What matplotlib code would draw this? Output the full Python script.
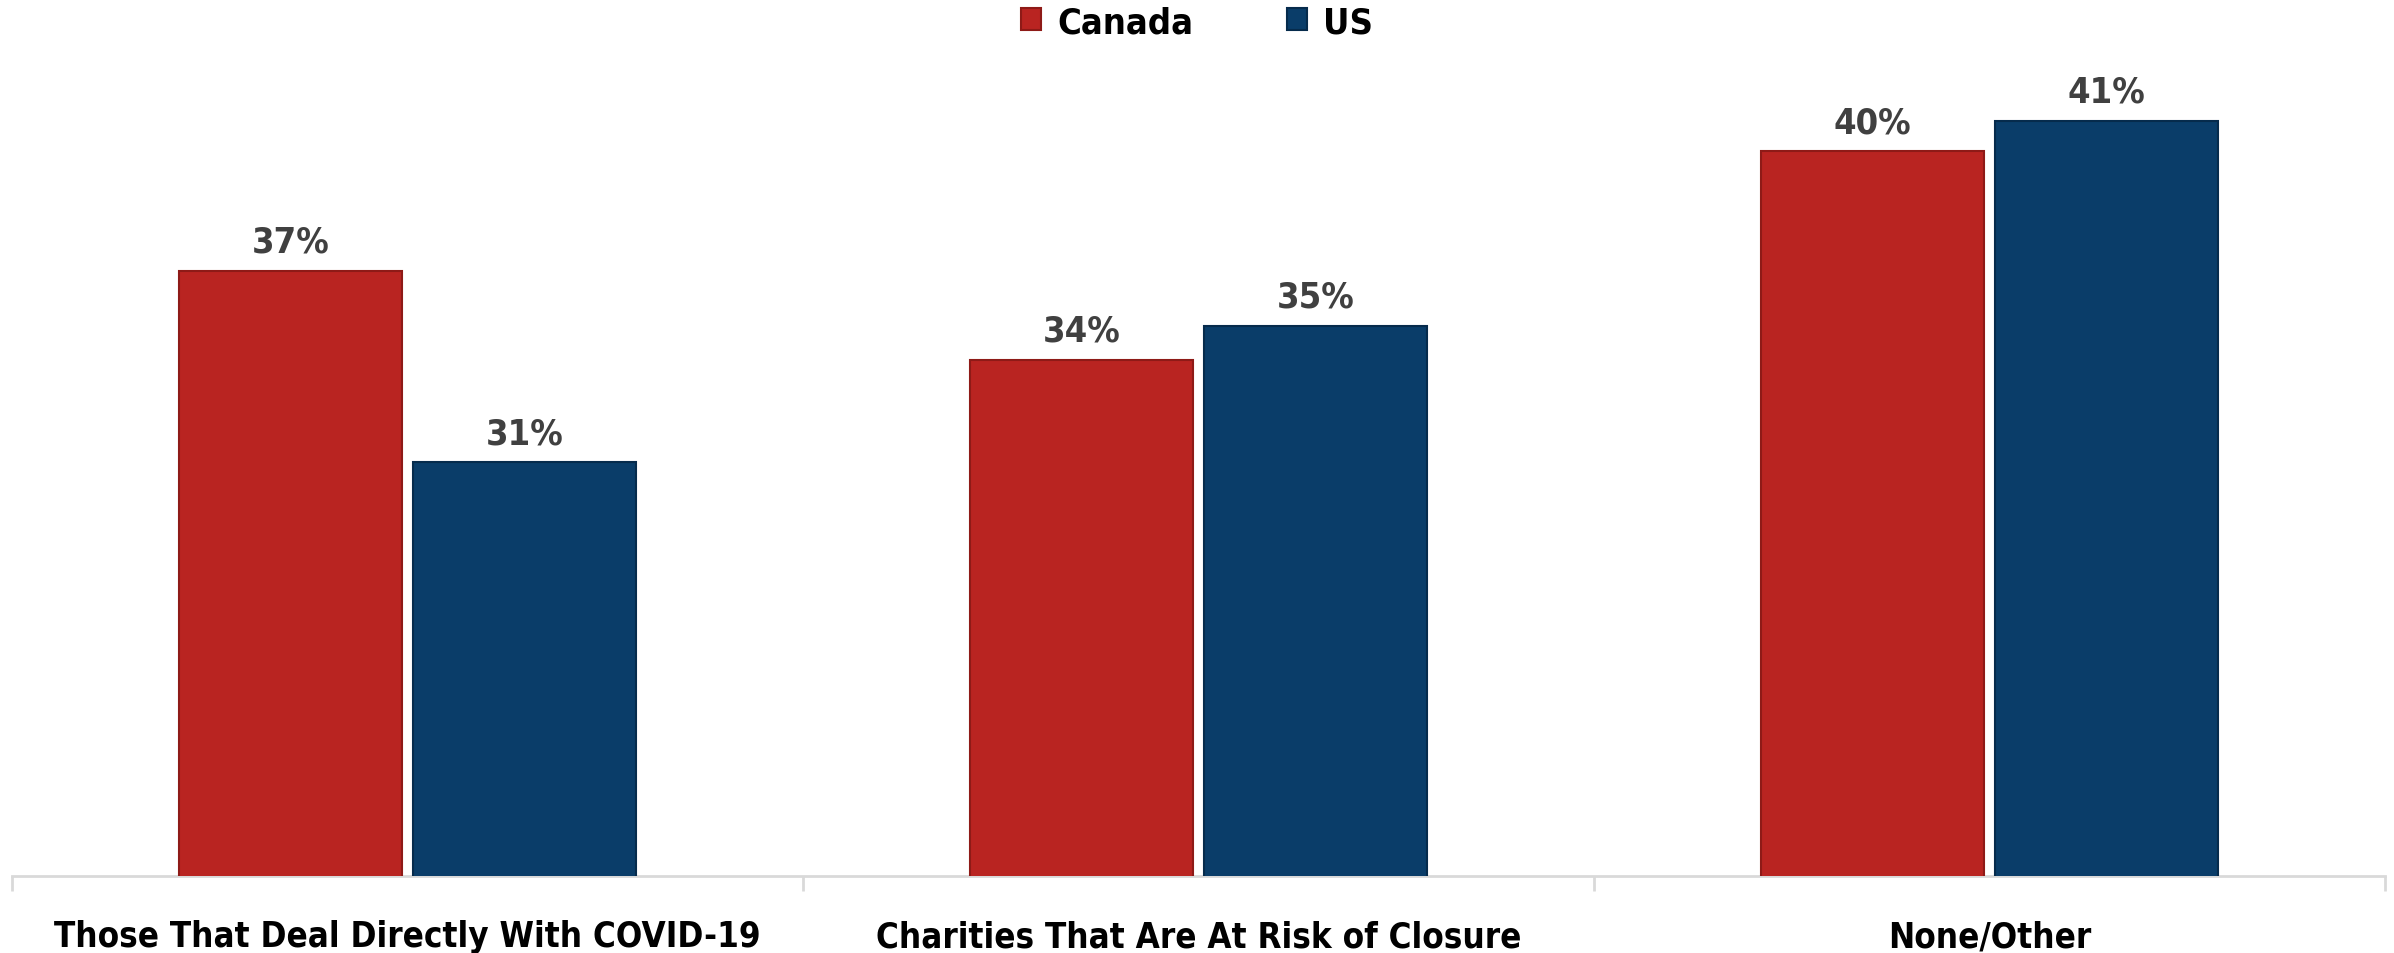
import matplotlib
matplotlib.use('Agg')
import matplotlib.pyplot as plt
import numpy as np

CATEGORIES = ['Those That Deal Directly With COVID-19',
              'Charities That Are At Risk of Closure',
              'None/Other']
CANADA = [36.6, 34.0, 40.1]
US = [31.0, 35.0, 41.0]
SERIES_NAMES = ['Canada', 'US']

RED = '#B92421'
BLUE = '#0A3D69'

plt.rcParams['font.family'] = ['DejaVu Sans']
plt.rcParams['font.stretch'] = 'condensed'
plt.rcParams['font.weight'] = 'bold'

fig = plt.figure(figsize=(23.94, 9.54), dpi=100)
ax = fig.add_axes([12 / 2394, 77 / 954, (2385 - 12) / 2394, (877 - 60) / 954])

x = np.arange(len(CATEGORIES))
width = 0.282
offset = width / 2 + 0.007

bars_ca = ax.bar(x - offset, CANADA, width, bottom=0, color=RED,
                 edgecolor='#8E1A17', linewidth=1.5, label=SERIES_NAMES[0], zorder=3)
bars_us = ax.bar(x + offset, US, width, bottom=0, color=BLUE,
                 edgecolor='#062B4C', linewidth=1.5, label=SERIES_NAMES[1], zorder=3)

for bars in (bars_ca, bars_us):
    for b in bars:
        ax.annotate('%d%%' % round(b.get_height()),
                    (b.get_x() + b.get_width() / 2, b.get_height()),
                    xytext=(0, 12), textcoords='offset pixels',
                    ha='center', va='bottom', fontsize=26, color='#404040',
                    fontweight='bold')

ax.set_xlim(-0.5, len(CATEGORIES) - 0.5)
ax.set_ylim(18.9, 42.8)

for side in ('top', 'right', 'left'):
    ax.spines[side].set_visible(False)
ax.spines['bottom'].set_color('#D9D9D9')
ax.spines['bottom'].set_linewidth(2)
ax.set_yticks([])

ax.set_xticks(np.arange(-0.5, len(CATEGORIES)), minor=False)
ax.set_xticklabels([])
ax.tick_params(axis='x', which='major', length=11, width=2, color='#D9D9D9', direction='out')
ax.set_xticks(x, minor=True)
ax.set_xticklabels(CATEGORIES, minor=True, fontsize=25, fontweight='bold', color='black')
ax.tick_params(axis='x', which='minor', length=0, pad=31)

fig.legend(handles=[bars_ca, bars_us], labels=SERIES_NAMES, loc='center',
           bbox_to_anchor=(0.5, 1 - 23 / 954), ncol=2, frameon=False,
           handlelength=0.55, handleheight=0.55, handletextpad=0.45,
           columnspacing=2.6, prop={'weight': 'bold', 'size': 26, 'stretch': 'condensed'})

fig.savefig('out.png', dpi=100, facecolor='white')
